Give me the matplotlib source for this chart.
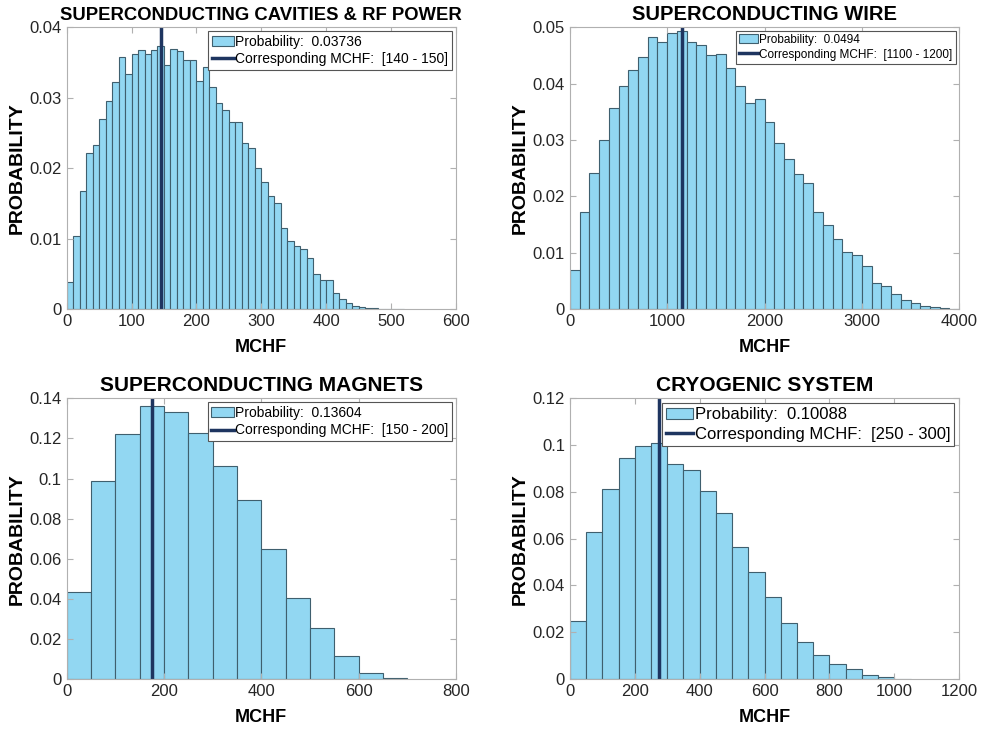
import numpy as np
import matplotlib
matplotlib.use("Agg")
import matplotlib.pyplot as plt
from matplotlib.patches import Patch
from matplotlib.lines import Line2D

plt.rcParams['font.family'] = ['Liberation Sans', 'DejaVu Sans']

# superconducting cavities & rf power (bin width 10)
cav_width = 10
cav_prob = [0.0038, 0.0103, 0.0167, 0.0221, 0.0233, 0.0270, 0.0295, 0.0322, 0.0358, 0.0333,
            0.0362, 0.0367, 0.0362, 0.0367, 0.03736, 0.0346, 0.0369, 0.0366, 0.0353, 0.0353,
            0.0324, 0.0343, 0.0315, 0.0293, 0.0282, 0.0265, 0.0266, 0.0235, 0.0228, 0.0200,
            0.0181, 0.0161, 0.0151, 0.0115, 0.0097, 0.0090, 0.0085, 0.0072, 0.0050, 0.0041,
            0.0041, 0.0023, 0.0014, 0.0009, 0.0005, 0.0003, 0.0002, 0.0001, 0.00005, 0.00005,
            0.00003, 0.00002]
cav_line = 145
cav_xticks = [0, 100, 200, 300, 400, 500, 600]

# superconducting wire (bin width 100)
wire_width = 100
wire_prob = [0.0070, 0.0173, 0.0241, 0.0300, 0.0356, 0.0395, 0.0424, 0.0447, 0.0483, 0.0473,
             0.0490, 0.0494, 0.0473, 0.0469, 0.0450, 0.0453, 0.0427, 0.0396, 0.0365, 0.0373,
             0.0332, 0.0294, 0.0266, 0.0240, 0.0223, 0.0173, 0.0149, 0.0125, 0.0101, 0.0096,
             0.0076, 0.0046, 0.0041, 0.0027, 0.0016, 0.0010, 0.0005, 0.0004, 0.0002, 0.0001]
wire_line = 1150
wire_xticks = [0, 1000, 2000, 3000, 4000]

# superconducting magnets (bin width 50)
mag_width = 50
mag_prob = [0.0433, 0.0990, 0.1220, 0.13604, 0.1333, 0.1225, 0.1063, 0.0893, 0.0650, 0.0403,
            0.0252, 0.0117, 0.0032, 0.0005]
mag_line = 175
mag_xticks = [0, 200, 400, 600, 800]

# cryogenic system (bin width 50)
cryo_width = 50
cryo_prob = [0.0246, 0.0629, 0.0811, 0.0944, 0.0997, 0.10088, 0.0919, 0.0894, 0.0803, 0.0709,
             0.0563, 0.0457, 0.0350, 0.0241, 0.0157, 0.0103, 0.0066, 0.0041, 0.0017, 0.0007,
             0.0001]
cryo_line = 275
cryo_xticks = [0, 200, 400, 600, 800, 1000, 1200]

panels = [
    ("SUPERCONDUCTING CAVITIES & RF POWER", 13.3, cav_prob, cav_width, cav_line, cav_xticks, (0, 0.04),
     [0, 0.01, 0.02, 0.03, 0.04], ['0', '0.01', '0.02', '0.03', '0.04'],
     "Probability:  0.03736", "Corresponding MCHF:  [140 - 150]", 10),
    ("SUPERCONDUCTING WIRE", 14.5, wire_prob, wire_width, wire_line, wire_xticks, (0, 0.05),
     [0, 0.01, 0.02, 0.03, 0.04, 0.05], ['0', '0.01', '0.02', '0.03', '0.04', '0.05'],
     "Probability:  0.0494", "Corresponding MCHF:  [1100 - 1200]", 8.5),
    ("SUPERCONDUCTING MAGNETS", 15, mag_prob, mag_width, mag_line, mag_xticks, (0, 0.14),
     [0, 0.02, 0.04, 0.06, 0.08, 0.1, 0.12, 0.14], ['0', '0.02', '0.04', '0.06', '0.08', '0.1', '0.12', '0.14'],
     "Probability:  0.13604", "Corresponding MCHF:  [150 - 200]", 10),
    ("CRYOGENIC SYSTEM", 15, cryo_prob, cryo_width, cryo_line, cryo_xticks, (0, 0.12),
     [0, 0.02, 0.04, 0.06, 0.08, 0.1, 0.12], ['0', '0.02', '0.04', '0.06', '0.08', '0.1', '0.12'],
     "Probability:  0.10088", "Corresponding MCHF:  [250 - 300]", 12),
]

bar_color = '#92d7f2'
edge_color = '#3f5f6e'
line_color = '#1e3560'

fig = plt.figure(figsize=(9.86, 7.29), dpi=100)
positions = [
    [0.0676, 0.576, 0.3948, 0.3868],
    [0.578, 0.576, 0.3948, 0.3868],
    [0.0676, 0.0686, 0.3948, 0.385],
    [0.578, 0.0686, 0.3948, 0.385],
]

for pos, (title, tfs, prob, width, vline, xticks, ylim, yticks, ylabels, lab1, lab2, lfs) in zip(positions, panels):
    ax = fig.add_axes(pos)
    edges = np.arange(len(prob)) * width
    ax.bar(edges, prob, width=width, align='edge', color=bar_color,
           edgecolor=edge_color, linewidth=0.8)
    ax.axvline(vline, color=line_color, linewidth=2.5)
    ax.set_xlim(xticks[0], xticks[-1])
    ax.set_xticks(xticks)
    ax.set_ylim(ylim)
    ax.set_yticks(yticks)
    ax.set_yticklabels(ylabels)
    ax.tick_params(direction='in', top=True, right=True, labelsize=12,
                   colors='#b0b0b0', labelcolor='#262626', length=4)
    for s in ax.spines.values():
        s.set_color('#b0b0b0')
    ax.set_title(title, fontsize=tfs, fontweight='bold', pad=5)
    ax.set_xlabel('MCHF', fontsize=13, fontweight='bold', labelpad=7)
    ax.set_ylabel('PROBABILITY', fontsize=14, fontweight='bold', labelpad=3)
    handles = [Patch(facecolor=bar_color, edgecolor=edge_color, linewidth=0.8),
               Line2D([0], [0], color=line_color, linewidth=2.5)]
    leg = ax.legend(handles, [lab1, lab2], loc='upper right', fontsize=lfs,
                    fancybox=False, framealpha=1, edgecolor='#555555',
                    borderpad=0.25, handlelength=1.6, handletextpad=0.1,
                    labelspacing=0.25, borderaxespad=0.3)
    leg.get_frame().set_linewidth(0.8)

fig.savefig('out.png', dpi=100)
